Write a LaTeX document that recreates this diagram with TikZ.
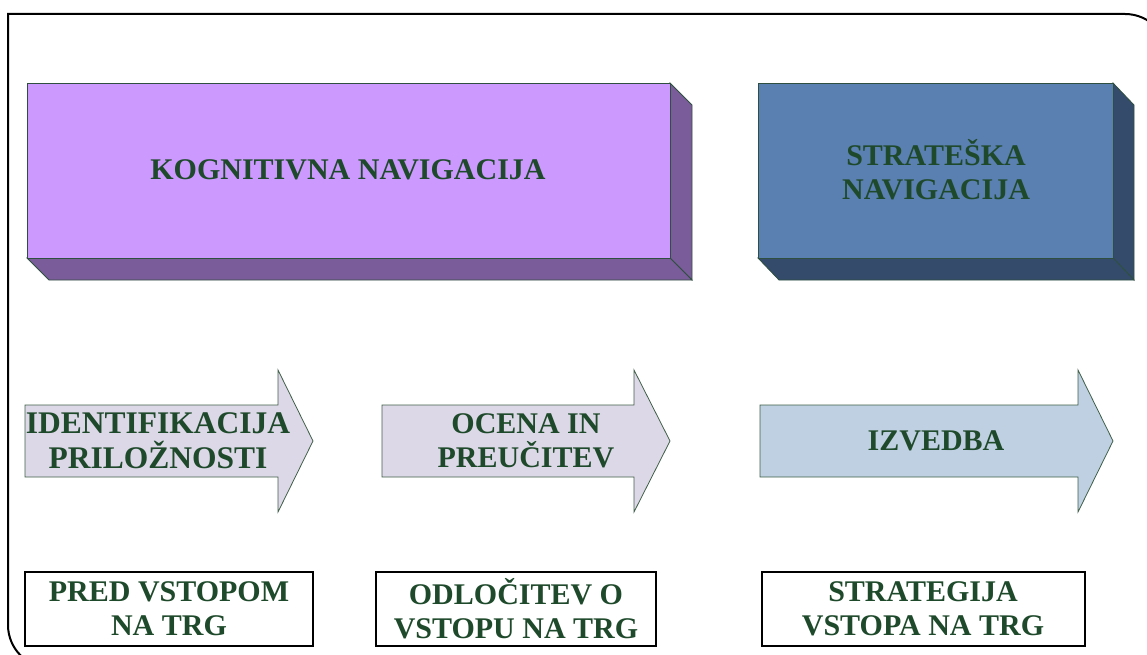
\documentclass[tikz,border=0pt]{standalone}
\usepackage{fontspec}
\setmainfont{Liberation Serif}
\definecolor{txtgreen}{HTML}{1E4A2B}
\definecolor{edgegreen}{HTML}{2F5040}
\definecolor{purfront}{HTML}{CC99FF}
\definecolor{purside}{HTML}{7B5C9B}
\definecolor{bluefront}{HTML}{5A7FB1}
\definecolor{blueside}{HTML}{344B6B}
\definecolor{lavarrow}{HTML}{DDD8E7}
\definecolor{bluearrow}{HTML}{BFD0E2}
\definecolor{arrowedge}{HTML}{3F5F48}
\tikzset{
  lbl/.style={text=txtgreen, font=\fontsize{30}{34}\selectfont\bfseries, align=center, inner sep=0pt},
  biglbl/.style={lbl, font=\fontsize{31.5}{35}\selectfont\bfseries},
  boxedge/.style={draw=edgegreen, line width=0.8pt, line join=miter},
  arrowshape/.style={draw=arrowedge, line width=0.8pt, line join=miter},
  framebox/.style={draw=black, line width=1.6pt, fill=white},
}
\begin{document}
\begin{tikzpicture}[x=1pt,y=-1pt]
\useasboundingbox (0,0) rectangle (1147,655);
% outer frame
\draw[black, line width=2pt] (1125,14) -- (8,14) -- (8,625)
  .. controls (8,648.75) and (27.25,668) .. (51,668) -- (1200,668);
\draw[black, line width=2pt] (1125,14) .. controls (1148.75,14) and (1168,33.25) .. (1168,57) -- (1168,700);
% purple 3D box
\path[boxedge, fill=purside] (670,83) -- (692,105) -- (692,280) -- (670,258) -- cycle;
\path[boxedge, fill=purside] (27,258) -- (670,258) -- (692,280) -- (49,280) -- cycle;
\path[boxedge, fill=purfront] (27,83) rectangle (670,258);
\node[lbl] (kog) at (348,170) {KOGNITIVNA NAVIGACIJA};
% blue 3D box
\path[boxedge, fill=blueside] (1113,83) -- (1134,105) -- (1134,280) -- (1113,258) -- cycle;
\path[boxedge, fill=blueside] (758,258) -- (1113,258) -- (1134,280) -- (779,280) -- cycle;
\path[boxedge, fill=bluefront] (758,83) rectangle (1113,258);
\node[lbl] (strat) at (936,170) {STRATEŠKA\\NAVIGACIJA};
% arrows
\path[arrowshape, fill=lavarrow] (25,405) -- (278,405) -- (278,370) -- (313,441) -- (278,512) -- (278,477) -- (25,477) -- cycle;
\node[biglbl] (ident) at (158,441) {IDENTIFIKACIJA\\PRILOŽNOSTI};
\path[arrowshape, fill=lavarrow] (382,405) -- (634,405) -- (634,370) -- (670,441) -- (634,512) -- (634,477) -- (382,477) -- cycle;
\node[lbl] (ocena) at (526,441) {OCENA IN\\PREUČITEV};
\path[arrowshape, fill=bluearrow] (760,405) -- (1078,405) -- (1078,370) -- (1113,441) -- (1078,512) -- (1078,477) -- (760,477) -- cycle;
\node[lbl] (izv) at (936,441) {IZVEDBA};
% bottom boxes
\path[framebox] (25,572) rectangle (313,646);
\node[lbl] (pred) at (169,609) {PRED VSTOPOM\\NA TRG};
\path[framebox] (376,572) rectangle (656,646);
\node[lbl] (odl) at (516,609) {ODLOČITEV O\\VSTOPU NA TRG};
\path[framebox] (762,572) rectangle (1085,646);
\node[lbl] (strv) at (923,609) {STRATEGIJA\\VSTOPA NA TRG};
\end{tikzpicture}
\end{document}
